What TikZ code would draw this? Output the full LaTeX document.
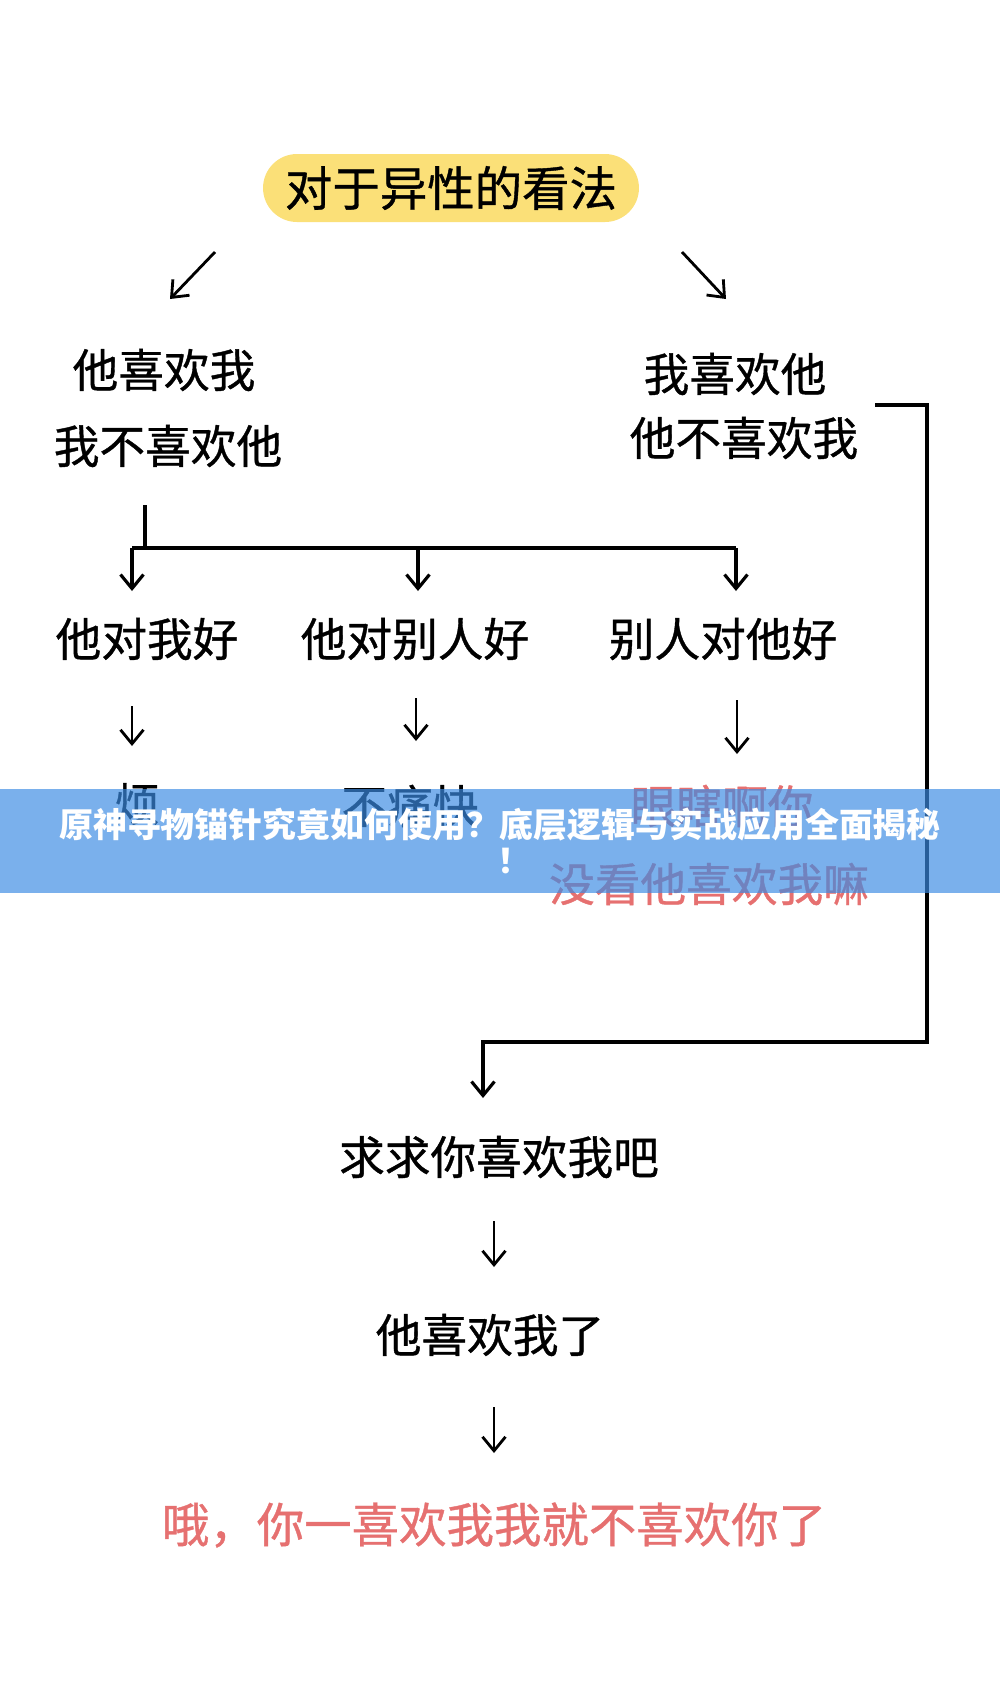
\documentclass[tikz,border=0pt]{standalone}
\usepackage{fontspec}
\usepackage{xcolor}
\usetikzlibrary{arrows.meta}
\newfontfamily\cjk{Noto Sans CJK SC}[FakeBold=0.8]
\newfontfamily\cjkbf{Noto Sans CJK SC}
\definecolor{PillYellow}{RGB}{251,224,120}
\definecolor{SoftRed}{RGB}{230,112,112}
\definecolor{BannerBlue}{RGB}{59,140,228}

\begin{document}
\begin{tikzpicture}[x=0.02cm, y=-0.02cm,
        txt/.style={font=\cjk\fontsize{26pt}{30pt}\selectfont, inner sep=0pt},
        bigtxt/.style={font=\cjk\fontsize{27pt}{30pt}\selectfont, inner sep=0pt},
        redtxt/.style={txt, SoftRed},
        link/.style={line width=1.8pt},
        arr/.style={line width=1.6pt, -{Straight Barb[length=2.8mm, width=4.6mm]}}]
        \useasboundingbox (0,0) rectangle (1000,1685);
        \fill[white] (0,0) rectangle (1000,1685);

        \node (head) at (451,188)[fill=PillYellow, rounded corners=0.68cm, minimum width=7.52cm, minimum height=1.36cm, bigtxt] {对于异性的看法};

        \node (hl1) at (164,370)[txt] {他喜欢我};
        \node (hl2) at (168,446)[txt] {我不喜欢他};
        \node (hr1) at (735,374)[txt] {我喜欢他};
        \node (hr2) at (744,438)[txt] {他不喜欢我};

        \foreach \n/\x/\t in {r1/147/他对我好, r2/415/他对别人好, r3/723/别人对他好} {
            \node (\n) at (\x,639)[txt] {\t};
        }

        \node (s1) at (137,804)[txt] {烦};
        \node (s2) at (410,806)[txt] {不痛快};
        \node (s3) at (722,806)[redtxt] {眼瞎啊你};
        \node (s4) at (709,884)[redtxt] {没看他喜欢我嘛};

        \node (beg) at (499,1157)[txt] {求求你喜欢我吧};
        \node (ok) at (490,1335)[txt] {他喜欢我了};
        \node (last) at (494,1525)[bigtxt, SoftRed] {哦，你一喜欢我我就不喜欢你了};

        \foreach \n/\xa/\ya/\xb/\yb in {dl/215/252/170/299, dr/682/252/726/299, a1/132/706/132/746, a2/416/698/416/741, a3/737/700/737/754, a4/494/1221/494/1267, a5/494/1407/494/1453} {
            \coordinate (\n s) at (\xa,\ya);
            \coordinate (\n e) at (\xb,\yb);
            \draw[arr] (\n s) -- (\n e);
        }

        \coordinate (fork) at (145,505);
        \coordinate (bar) at (145,548);
        \draw[link] (fork) -- (bar);
        \draw[link] (132,548) -- (736,548);
        \foreach \x in {132,418,736} {
            \coordinate (f\x) at (\x,548);
            \draw[arr, line width=1.8pt] (f\x) -- (\x,591);
        }

        \coordinate (loops) at (875,405);
        \coordinate (loope) at (483,1098);
        \draw[link, -{Straight Barb[length=2.8mm, width=4.6mm]}] (loops) -| (927,1042) -| (loope);

        \fill[BannerBlue, fill opacity=0.68] (0,789) rectangle (1000,893);
        \node (banner) at (500,841)[font=\cjkbf\bfseries\fontsize{19.3pt}{20.5pt}\selectfont, white, align=center, inner sep=0pt] {原神寻物锚针究竟如何使用？底层逻辑与实战应用全面揭秘\\\hspace*{16pt}！};
    \end{tikzpicture}
\end{document}
